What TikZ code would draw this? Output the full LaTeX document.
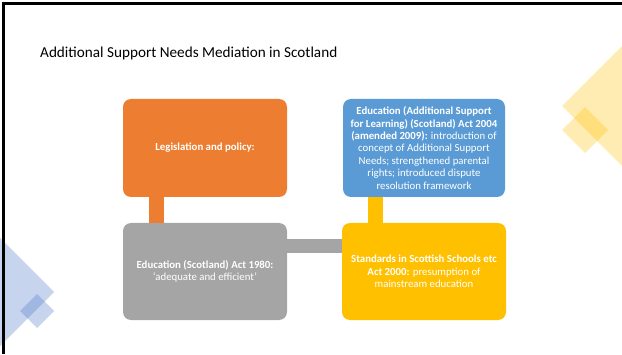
\documentclass[tikz,border=0pt]{standalone}
\usepackage{fontspec}
\setmainfont{Carlito}
\usetikzlibrary{positioning}
\definecolor{slideorange}{RGB}{237,125,49}
\definecolor{slideblue}  {RGB}{91,155,213}
\definecolor{slidegray}  {RGB}{165,165,165}
\definecolor{slidegold}  {RGB}{255,192,0}
\definecolor{slidenavy}  {RGB}{68,114,196}

\begin{document}
\begin{tikzpicture}[
  x=1pt,y=1pt,
  stepbox/.style 2 args={rounded corners=8pt,minimum width=#1,minimum height=#2,
                         inner sep=2pt,align=center,text=white,
                         font=\fontsize{10.8}{12.4}\selectfont},
  obox/.style={stepbox={164pt}{98pt},fill=slideorange},
  bbox/.style={stepbox={162pt}{98pt},fill=slideblue},
  gbox/.style={stepbox={164pt}{97pt},fill=slidegray},
  ybox/.style={stepbox={164pt}{97pt},fill=slidegold},
  link/.style={line width=#1},
  deco/.style={fill=#1,opacity=0.3},
]
\useasboundingbox (0,0) rectangle (622,354);

%% ── corner diamonds ──────────────────────────────────────────────────────────
\begin{scope}
  \clip (0,0) rectangle (622,354);
  \fill[deco=slidegold] (662,348) -- (762,248) -- (662,148) -- (562,248) -- cycle;
  \fill[deco=slidegold] (585,247) -- (608,224) -- (585,201) -- (562,224) -- cycle;
  \fill[deco=slidenavy] (-6,122) -- (54,62) -- (-6,2) -- (-66,62) -- cycle;
  \fill[deco=slidenavy] (37,60) -- (54,43) -- (37,26) -- (20,43) -- cycle;
\end{scope}

%% frame (top and left only)
\fill[black] (2,0) rectangle (5,352);
\fill[black] (2,349) rectangle (622,352);

%% ── title ────────────────────────────────────────────────────────────────────
\node[anchor=west,font=\fontsize{15.2}{17}\selectfont,inner sep=0pt] (title) at (40,301)
  {Additional Support Needs Mediation in Scotland};

%% ── boxes ────────────────────────────────────────────────────────────────────
\node[obox] (legis) at (205,206) {\textbf{Legislation and policy:}};

\node[bbox] (asl) at (424,206)
  {\textbf{Education (Additional Support}\\
   \textbf{for Learning) (Scotland) Act 2004}\\
   \textbf{(amended 2009):} introduction of\\
   concept of Additional Support\\
   Needs; strengthened parental\\
   rights; introduced dispute\\
   resolution framework};

\node[gbox] (act80) at (205,82.5)
  {\textbf{Education (Scotland) Act 1980:}\\
   `adequate and efficient'};

\node[ybox] (ssa) at (424,82.5)
  {\textbf{Standards in Scottish Schools etc}\\
   \textbf{Act 2000:} presumption of\\
   mainstream education};

%% ── connecting bars ──────────────────────────────────────────────────────────
\draw[link=15pt,slideorange] ([xshift=33.5pt]legis.south west) -- ([xshift=33.5pt]act80.north west);
\draw[link=15pt,slidegold] ([xshift=32.5pt]asl.south west) -- ([xshift=33.5pt]ssa.north west);
\draw[link=14pt,slidegray] ([yshift=25.5pt]act80.east) -- ([yshift=25.5pt]ssa.west);

\end{tikzpicture}
\end{document}
